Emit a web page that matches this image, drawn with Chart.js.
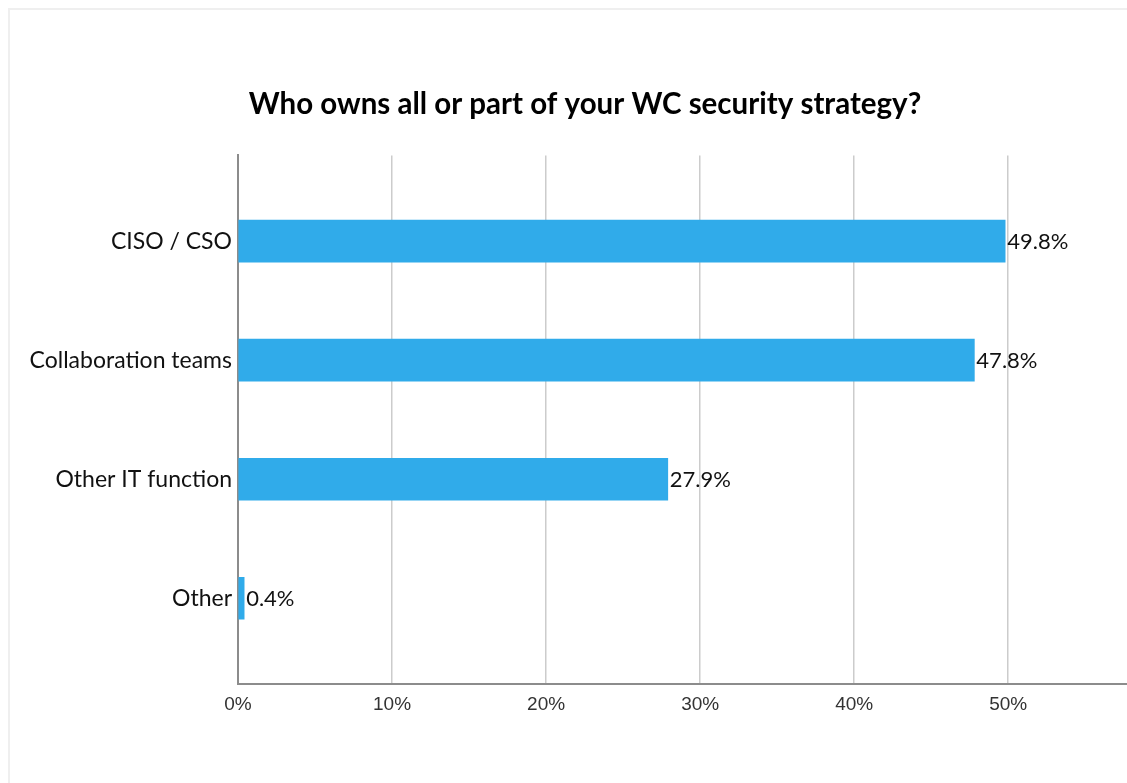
<!DOCTYPE html>
<html>
<head>
<meta charset="utf-8">
<title>WC security strategy owners</title>
<script src="https://cdn.jsdelivr.net/npm/chart.js@4"></script>
<style>
  html, body { margin: 0; padding: 0; background: #fff; overflow: hidden; width: 1127px; height: 783px; }
  .frame { position: absolute; left: 8px; top: 8px; width: 1200px; height: 900px; border: 2px solid #efefef; }
  #owners-chart { position: absolute; left: 0; top: 0; }
</style>
</head>
<body>
<div class="frame"></div>
<canvas id="owners-chart" width="1180" height="783"></canvas>
<script>
// data
const categories = ["CISO / CSO", "Collaboration teams", "Other IT function", "Other"];
const shares = [49.8, 47.8, 27.9, 0.4];
const xTicks = [0, 10, 20, 30, 40, 50];

const barBlue = "#30abea";
const labelFont = "Lato, 'Open Sans', sans-serif";

// prints the value next to each bar end
const valueLabels = {
  id: "valueLabels",
  afterDatasetsDraw(chart) {
    const ctx = chart.ctx;
    const meta = chart.getDatasetMeta(0);
    ctx.save();
    ctx.font = "22px " + labelFont;
    ctx.fillStyle = "#111";
    ctx.textAlign = "left";
    ctx.textBaseline = "middle";
    meta.data.forEach((bar, i) => {
      ctx.fillText(shares[i].toFixed(1) + "%", bar.x + 2, bar.y + 1);
    });
    ctx.restore();
  },
};

const owners = document.getElementById("owners-chart");

const chartOwners = new Chart(owners, {
  type: "bar",
  data: {
    datasets: [
      {
        label: "Share",
        data: shares.map((v, i) => ({ x: v, y: i })),
        backgroundColor: barBlue,
        borderWidth: 0,
        barThickness: 42,
      },
    ],
  },
  options: {
    responsive: false,
    animation: false,
    indexAxis: "y",
    layout: {
      padding: { top: 0, right: 10, bottom: 0, left: 0 },
    },
    plugins: {
      legend: { display: false },
      tooltip: { enabled: false },
      title: {
        display: true,
        text: "Who owns all or part of your WC security strategy?",
        color: "#000",
        font: { family: labelFont, size: 29.5, weight: "bold" },
        padding: { top: 87, bottom: 33 },
      },
    },
    scales: {
      x: {
        type: "linear",
        min: 0,
        max: 60.5,
        afterBuildTicks: (scale) => {
          scale.ticks = xTicks.map((v) => ({ value: v }));
        },
        afterFit: (scale) => {
          scale.height = 99;
        },
        grid: {
          color: "#cccccc",
          lineWidth: 1.5,
          drawTicks: false,
        },
        border: { color: "#8c8c8c", width: 2 },
        ticks: {
          padding: 9,
          color: "#333",
          font: { family: "'Liberation Sans', Arial, sans-serif", size: 19 },
          callback: (v) => v + "%",
        },
      },
      y: {
        type: "linear",
        reverse: true,
        offset: false,
        min: -0.72,
        max: 3.72,
        afterBuildTicks: (scale) => {
          scale.ticks = categories.map((c, i) => ({ value: i }));
        },
        afterFit: (scale) => {
          scale.width = 238;
        },
        grid: { display: false, drawTicks: false },
        border: { color: "#8c8c8c", width: 2 },
        ticks: {
          padding: 6,
          color: "#111",
          font: { family: labelFont, size: 23 },
          callback: (v) => categories[v],
        },
      },
    },
  },
  plugins: [valueLabels],
});
</script>
</body>
</html>
